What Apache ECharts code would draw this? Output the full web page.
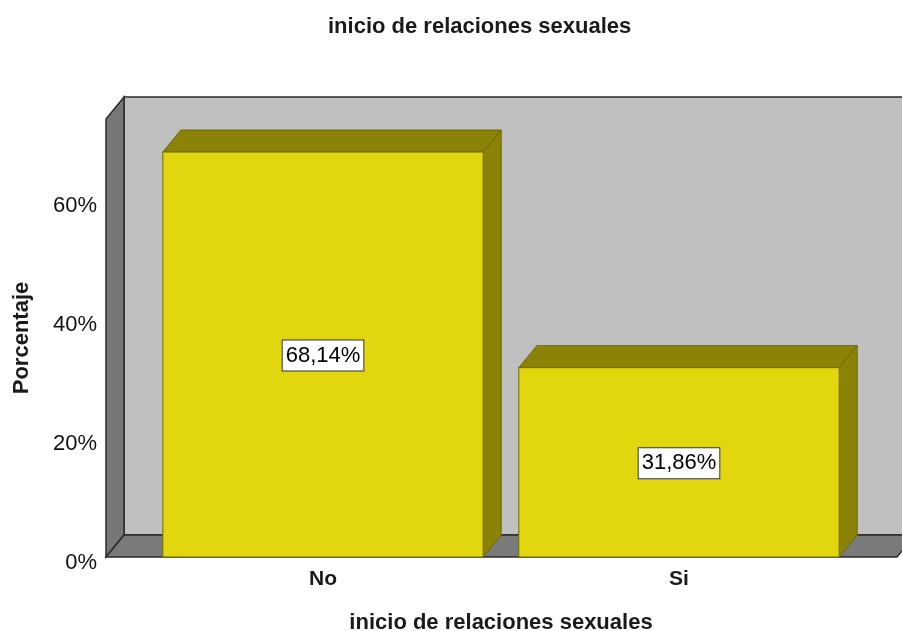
<!DOCTYPE html>
<html>
<head>
<meta charset="utf-8">
<script src="https://cdn.jsdelivr.net/npm/echarts@6/dist/echarts.min.js"></script>
<style>
  html, body { margin: 0; padding: 0; background: #fff; }
  #chart { width: 902px; height: 631px; }
</style>
</head>
<body>
<div id="chart"></div>
<script>
// datos
const categorias = ['No', 'Si'];
const porcentajes = [68.14, 31.86];
const marcasY = [0, 20, 40, 60];

const fuente = "'Liberation Sans', Arial, sans-serif";
// profundidad del efecto 3D
const dx = 18, dy = -22;

function etiqueta(v) {
  return v.toFixed(2).replace('.', ',') + '%';
}

const chart = echarts.init(document.getElementById('chart'));

function paredes(params, api) {
  const cs = params.coordSys;
  const L = cs.x - 39, R = cs.x + cs.width + 40;
  const T = cs.y, B = cs.y + cs.height;
  const borde = '#2b2b2b';
  return {
    type: 'group',
    children: [
      { type: 'polygon', shape: { points: [[L + dx, T + dy], [R + dx + 30, T + dy], [R + dx + 30, B + dy], [L + dx, B + dy]] },
        style: { fill: '#c0c0c0', stroke: borde, lineWidth: 1.5 } },
      { type: 'polygon', shape: { points: [[L, T], [L + dx, T + dy], [L + dx, B + dy], [L, B]] },
        style: { fill: '#777777', stroke: borde, lineWidth: 1.5 } },
      { type: 'polygon', shape: { points: [[L, B], [L + dx, B + dy], [R + dx, B + dy], [R, B]] },
        style: { fill: '#7a7a7a', stroke: borde, lineWidth: 1.5 } }
    ]
  };
}

function barra(params, api) {
  const base = api.coord([api.value(0), 0]);
  const tope = api.coord([api.value(0), api.value(1)]);
  const bw = api.size([1, 0])[0] * 0.9;
  const l = tope[0] - bw / 2, r = tope[0] + bw / 2;
  const t = tope[1], b = base[1];
  const linea = '#6f6a00';
  return {
    type: 'group',
    children: [
      { type: 'polygon', shape: { points: [[l, t], [l + dx, t + dy], [r + dx, t + dy], [r, t]] },
        style: { fill: '#8b8308', stroke: linea, lineWidth: 1 } },
      { type: 'polygon', shape: { points: [[r, t], [r + dx, t + dy], [r + dx, b + dy], [r, b]] },
        style: { fill: '#8b8308', stroke: linea, lineWidth: 1 } },
      { type: 'rect', shape: { x: l, y: t, width: bw, height: b - t },
        style: { fill: '#e2d70f', stroke: linea, lineWidth: 1 } },
      { type: 'text', x: tope[0], y: (t + b) / 2 + 1,
        style: {
          text: etiqueta(api.value(1)),
          font: '22px ' + fuente,
          fill: '#000',
          align: 'center',
          verticalAlign: 'middle',
          backgroundColor: '#ffffff',
          borderColor: '#333333',
          borderWidth: 1,
          padding: [5, 3, 3, 3]
        } }
    ]
  };
}

const option = {
  animation: false,
  title: {
    text: 'inicio de relaciones sexuales',
    left: 328,
    top: 16,
    padding: 0,
    textStyle: { fontFamily: fuente, fontSize: 22, fontWeight: 'bold', color: '#1a1a1a' }
  },
  grid: { left: 145, right: 45, top: 119, bottom: 74, outerBoundsMode: 'none' },
  xAxis: {
    type: 'category',
    data: categorias,
    name: 'inicio de relaciones sexuales',
    nameLocation: 'middle',
    nameGap: 55,
    nameTextStyle: { fontFamily: fuente, fontSize: 22, fontWeight: 'bold', color: '#1a1a1a' },
    axisLine: { show: false },
    axisTick: { show: false },
    axisLabel: { margin: 12, fontFamily: fuente, fontSize: 21, fontWeight: 'bold', color: '#1a1a1a' }
  },
  yAxis: {
    type: 'value',
    min: 0,
    max: 73.7,
    interval: 20,
    name: 'Porcentaje',
    nameLocation: 'middle',
    nameGap: 112,
    nameTextStyle: { fontFamily: fuente, fontSize: 22, fontWeight: 'bold', color: '#1a1a1a' },
    axisLine: { show: false },
    axisTick: { show: false },
    splitLine: { show: false },
    axisLabel: {
      margin: 48,
      showMaxLabel: false,
      verticalAlign: 'top',
      lineHeight: 12,
      fontFamily: fuente, fontSize: 22, color: '#111',
      formatter: v => marcasY.includes(v) ? v + '%' : ''
    }
  },
  series: [
    { type: 'custom', renderItem: paredes, data: [[0, 0]], z: 1, silent: true },
    { type: 'custom', renderItem: barra, data: categorias.map((c, i) => [i, porcentajes[i]]), z: 2 }
  ]
};

chart.setOption(option);
</script>
</body>
</html>
